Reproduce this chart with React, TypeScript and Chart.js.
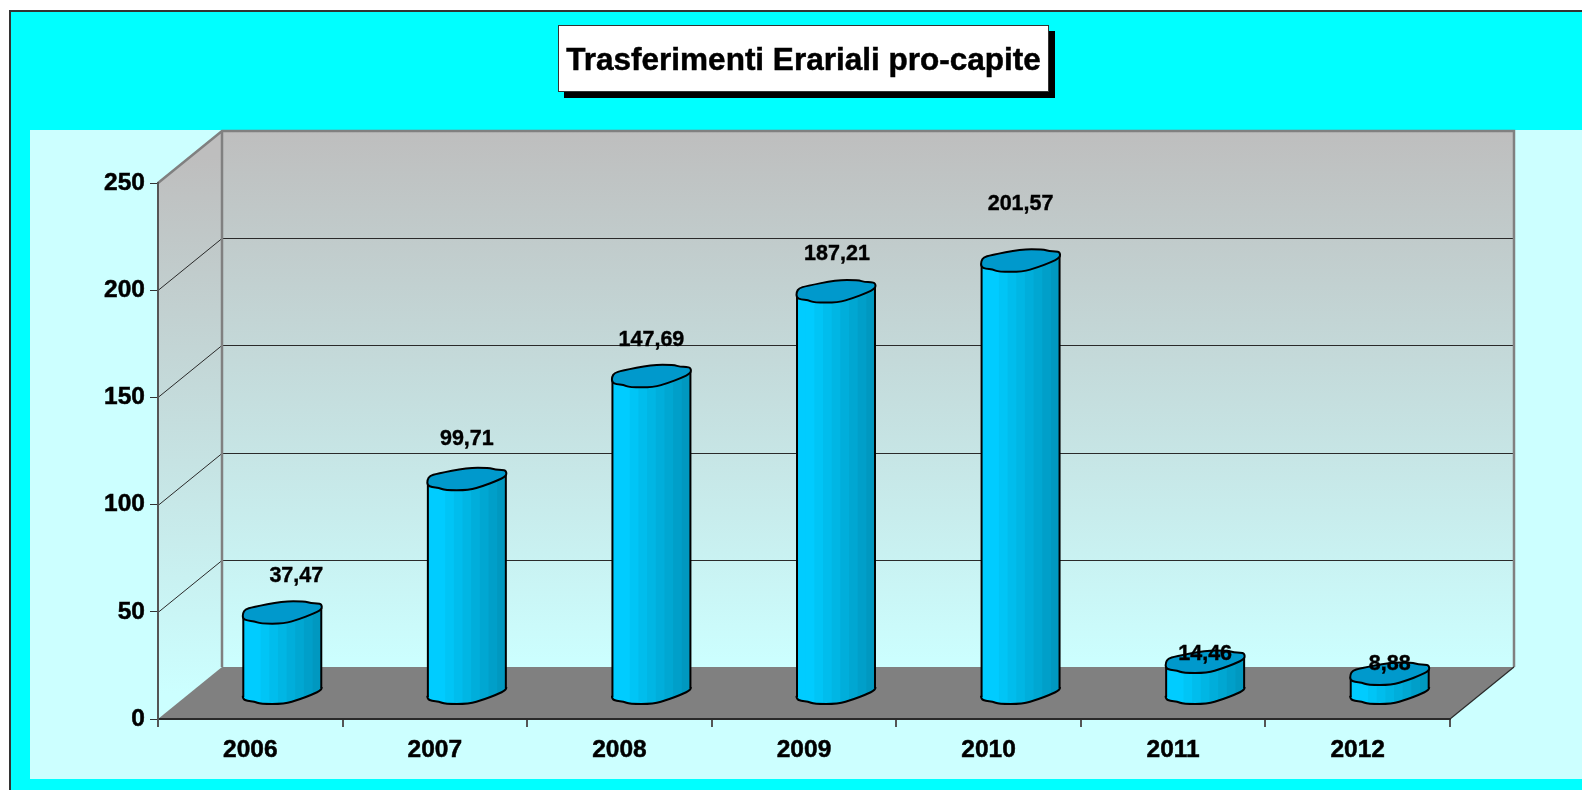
import React, { useEffect, useRef } from "react";
import { Chart, registerables } from "chart.js";

Chart.register(...registerables);

const TITLE = "Trasferimenti Erariali pro-capite";
const years = ["2006", "2007", "2008", "2009", "2010", "2011", "2012"];
const transfers = [37.47, 99.71, 147.69, 187.21, 201.57, 14.46, 8.88];
const valueTicks = [0, 50, 100, 150, 200, 250];

// Hand-placed label offsets of the original chart, relative to the top of each cylinder
const labelLift = [37, 40, 36, 38, 57, 8, 10];
const labelShift = [14, 0, 0, 1, 0, 0, 0];

const FONT = '"Liberation Sans", Arial, sans-serif';
const DEPTH_X = 64;
const DEPTH_Y = 52;

// Outline of a cylinder cap, in px at a half-width of 39
const CAP: [number, number][] = [
  [-39.5, 0.5], [-37, -3.5], [-30, -5.5], [0, -11.5], [22, -11.5], [29, -9.5], [35, -9.5], [39.5, -8.5],
  [39.5, -3], [30, 1.5], [17, 6.5], [2, 11], [-22, 11], [-28, 8.5], [-35, 8], [-39.5, 6],
];

function capPath(ctx: CanvasRenderingContext2D, cx: number, cy: number, k: number) {
  const pts = CAP.map(([a, b]) => [cx + a * k, cy + b] as [number, number]);
  const n = pts.length;
  ctx.beginPath();
  ctx.moveTo((pts[n - 1][0] + pts[0][0]) / 2, (pts[n - 1][1] + pts[0][1]) / 2);
  for (let i = 0; i < n; i++) {
    const p = pts[i];
    const q = pts[(i + 1) % n];
    ctx.quadraticCurveTo(p[0], p[1], (p[0] + q[0]) / 2, (p[1] + q[1]) / 2);
  }
  ctx.closePath();
}

const backdrop = {
  id: "backdrop",
  beforeDraw(chart: any) {
    const ctx: CanvasRenderingContext2D = chart.ctx;
    const { x, y } = chart.scales;
    const W = chart.width;
    const H = chart.height;
    const left = x.left;
    const right = x.right;
    const y0 = y.getPixelForValue(0);
    const yT = y.getPixelForValue(250);
    ctx.save();
    ctx.fillStyle = "#ffffff";
    ctx.fillRect(0, 0, W, H);
    ctx.fillStyle = "#00ffff";
    ctx.fillRect(10, 11, W - 10, H - 11);
    ctx.fillStyle = "#333333";
    ctx.fillRect(9, 10, W - 9, 2);
    ctx.fillRect(9, 10, 2, H - 10);
    ctx.fillStyle = "#ccffff";
    ctx.fillRect(30, 130, W - 30, 649);

    const g = ctx.createLinearGradient(0, yT - DEPTH_Y, 0, y0 - DEPTH_Y);
    g.addColorStop(0, "#bebebe");
    g.addColorStop(1, "#ccffff");
    ctx.fillStyle = g;
    ctx.fillRect(left + DEPTH_X, yT - DEPTH_Y, right - left, y0 - yT);
    const gs = ctx.createLinearGradient(0, yT - DEPTH_Y / 2, 0, y0 - DEPTH_Y / 2);
    gs.addColorStop(0, "#bebebe");
    gs.addColorStop(1, "#ccffff");
    ctx.fillStyle = gs;
    ctx.beginPath();
    ctx.moveTo(left, yT);
    ctx.lineTo(left + DEPTH_X, yT - DEPTH_Y);
    ctx.lineTo(left + DEPTH_X, y0 - DEPTH_Y);
    ctx.lineTo(left, y0);
    ctx.closePath();
    ctx.fill();

    ctx.fillStyle = "#808080";
    ctx.beginPath();
    ctx.moveTo(left, y0);
    ctx.lineTo(right, y0);
    ctx.lineTo(right + DEPTH_X, y0 - DEPTH_Y);
    ctx.lineTo(left + DEPTH_X, y0 - DEPTH_Y);
    ctx.closePath();
    ctx.fill();

    // grid lines on both walls
    ctx.strokeStyle = "#2a2a2a";
    ctx.lineWidth = 1;
    for (const t of valueTicks.slice(1, -1)) {
      const py = Math.round(y.getPixelForValue(t)) + 0.5;
      ctx.beginPath();
      ctx.moveTo(left, py);
      ctx.lineTo(left + DEPTH_X, py - DEPTH_Y);
      ctx.lineTo(right + DEPTH_X, py - DEPTH_Y);
      ctx.stroke();
    }
    // frame of the walls
    ctx.strokeStyle = "#808080";
    ctx.lineWidth = 2.5;
    ctx.beginPath();
    ctx.moveTo(left, yT);
    ctx.lineTo(left + DEPTH_X, yT - DEPTH_Y);
    ctx.lineTo(right + DEPTH_X, yT - DEPTH_Y);
    ctx.lineTo(right + DEPTH_X, y0 - DEPTH_Y);
    ctx.moveTo(left + DEPTH_X, yT - DEPTH_Y);
    ctx.lineTo(left + DEPTH_X, y0 - DEPTH_Y);
    ctx.stroke();
    ctx.strokeStyle = "#2a2a2a";
    ctx.lineWidth = 1.2;
    ctx.beginPath();
    ctx.moveTo(right + DEPTH_X, y0 - DEPTH_Y);
    ctx.lineTo(right, y0);
    ctx.stroke();

    // title box
    const bx = 558, by = 25, bw = 491, bh = 67;
    ctx.fillStyle = "#000000";
    ctx.fillRect(bx + 6, by + 6, bw, bh);
    ctx.fillStyle = "#ffffff";
    ctx.fillRect(bx, by, bw, bh);
    ctx.strokeStyle = "#333333";
    ctx.lineWidth = 1;
    ctx.strokeRect(bx + 0.5, by + 0.5, bw - 1, bh - 1);
    ctx.fillStyle = "#000000";
    ctx.strokeStyle = "#000000";
    ctx.lineWidth = 0.5;
    ctx.font = `bold 31.5px ${FONT}`;
    ctx.textAlign = "center";
    ctx.textBaseline = "middle";
    const head = chart.options.plugins.chartHeading.text;
    ctx.fillText(head, bx + bw / 2, by + bh / 2 + 3);
    ctx.strokeText(head, bx + bw / 2, by + bh / 2 + 3);
    ctx.restore();
  },
};

const BAND_COUNT = 9;

const cylinders = {
  id: "cylinders",
  afterDatasetsDraw(chart: any) {
    const ctx: CanvasRenderingContext2D = chart.ctx;
    const meta = chart.getDatasetMeta(0);
    const y0 = chart.scales.y.getPixelForValue(0);
    meta.data.forEach((el: any, i: number) => {
      const cx = el.x + DEPTH_X / 2;
      const half = el.width / 2;
      const k = half / 39;
      const topY = el.y - DEPTH_Y / 2;
      const botY = y0 - DEPTH_Y / 2;
      ctx.save();
      // body silhouette: bottom cap plus the slanted side quad
      ctx.save();
      ctx.beginPath();
      capPath(ctx, cx, botY, k);
      ctx.moveTo(cx - half, topY + 3);
      ctx.lineTo(cx + half, topY - 5);
      ctx.lineTo(cx + half, botY - 5);
      ctx.lineTo(cx - half, botY + 4);
      ctx.closePath();
      ctx.clip("nonzero");
      for (let b = 0; b < BAND_COUNT; b++) {
        const t = Math.max(0, b - 1) / (BAND_COUNT - 2);
        const g = Math.round(204 - 52 * t);
        const bl = Math.round(255 - 63 * t);
        ctx.fillStyle = `rgb(0,${g},${bl})`;
        const bandW = (half * 2) / BAND_COUNT;
        ctx.fillRect(cx - half + b * bandW, topY - 12, bandW + 1, botY - topY + 30);
      }
      ctx.restore();
      ctx.strokeStyle = "#000000";
      ctx.lineWidth = 2;
      // bottom curve: clip the outline to the part under the middle of the cap
      ctx.save();
      ctx.beginPath();
      ctx.moveTo(cx - half - 3, botY + 3);
      ctx.lineTo(cx - half - 3, botY + 16);
      ctx.lineTo(cx + half + 3, botY + 16);
      ctx.lineTo(cx + half + 3, botY - 6);
      ctx.closePath();
      ctx.clip();
      capPath(ctx, cx, botY, k);
      ctx.stroke();
      ctx.restore();
      // sides
      ctx.beginPath();
      ctx.moveTo(cx - half, topY + 3);
      ctx.lineTo(cx - half, botY + 4);
      ctx.moveTo(cx + half, topY - 5);
      ctx.lineTo(cx + half, botY - 5);
      ctx.stroke();
      // top cap
      capPath(ctx, cx, topY, k);
      ctx.fillStyle = "#0099cc";
      ctx.fill();
      ctx.stroke();
      // value label
      ctx.fillStyle = "#000000";
      ctx.strokeStyle = "#000000";
      ctx.lineWidth = 0.4;
      ctx.font = `bold 21.5px ${FONT}`;
      ctx.textAlign = "center";
      ctx.textBaseline = "middle";
      const text = transfers[i].toFixed(2).replace(".", ",");
      ctx.fillText(text, cx + labelShift[i], topY - labelLift[i]);
      ctx.strokeText(text, cx + labelShift[i], topY - labelLift[i]);
      ctx.restore();
    });
  },
};

export default function App() {
  const ref = useRef<HTMLCanvasElement | null>(null);
  useEffect(() => {
    if (!ref.current) return;
    const chart = new Chart(ref.current, {
      type: "bar",
      data: {
        labels: years,
        datasets: [
          {
            label: TITLE,
            data: transfers,
            backgroundColor: "rgba(0,0,0,0)",
            borderWidth: 0,
            categoryPercentage: 1,
            barPercentage: 0.4225,
          },
        ],
      },
      options: {
        animation: false,
        responsive: false,
        layout: { padding: { top: 183, right: 132, bottom: 0, left: 0 } },
        plugins: {
          legend: { display: false },
          tooltip: { enabled: false },
          title: { display: false },
          chartHeading: { text: TITLE },
        } as any,
        scales: {
          x: {
            afterFit: (s: any) => {
              s.height = 71;
            },
            grid: { drawOnChartArea: false, drawTicks: true, tickLength: 8, color: "#555555", lineWidth: 2 },
            border: { color: "#2a2a2a", width: 2 },
            ticks: {
              color: "#000000",
              padding: 9,
              maxRotation: 0,
              textStrokeColor: "#000000",
              textStrokeWidth: 0.5,
              font: { family: FONT, weight: "bold", size: 24.5 },
            },
          },
          y: {
            min: 0,
            max: 250,
            afterFit: (s: any) => {
              s.width = 158;
            },
            afterBuildTicks: (s: any) => {
              s.ticks = valueTicks.map((value) => ({ value }));
            },
            grid: { drawOnChartArea: false, drawTicks: true, tickLength: 8, color: "#333333", lineWidth: 1 },
            border: { color: "#555555", width: 2 },
            ticks: {
              color: "#000000",
              padding: 5,
              textStrokeColor: "#000000",
              textStrokeWidth: 0.5,
              font: { family: FONT, weight: "bold", size: 24.5 },
            },
          },
        },
      },
      plugins: [backdrop, cylinders],
    } as any);
    return () => chart.destroy();
  }, []);
  return (
    <canvas
      ref={ref}
      width={1582}
      height={790}
      style={{ position: "fixed", left: 0, top: 0, display: "block" }}
    />
  );
}
